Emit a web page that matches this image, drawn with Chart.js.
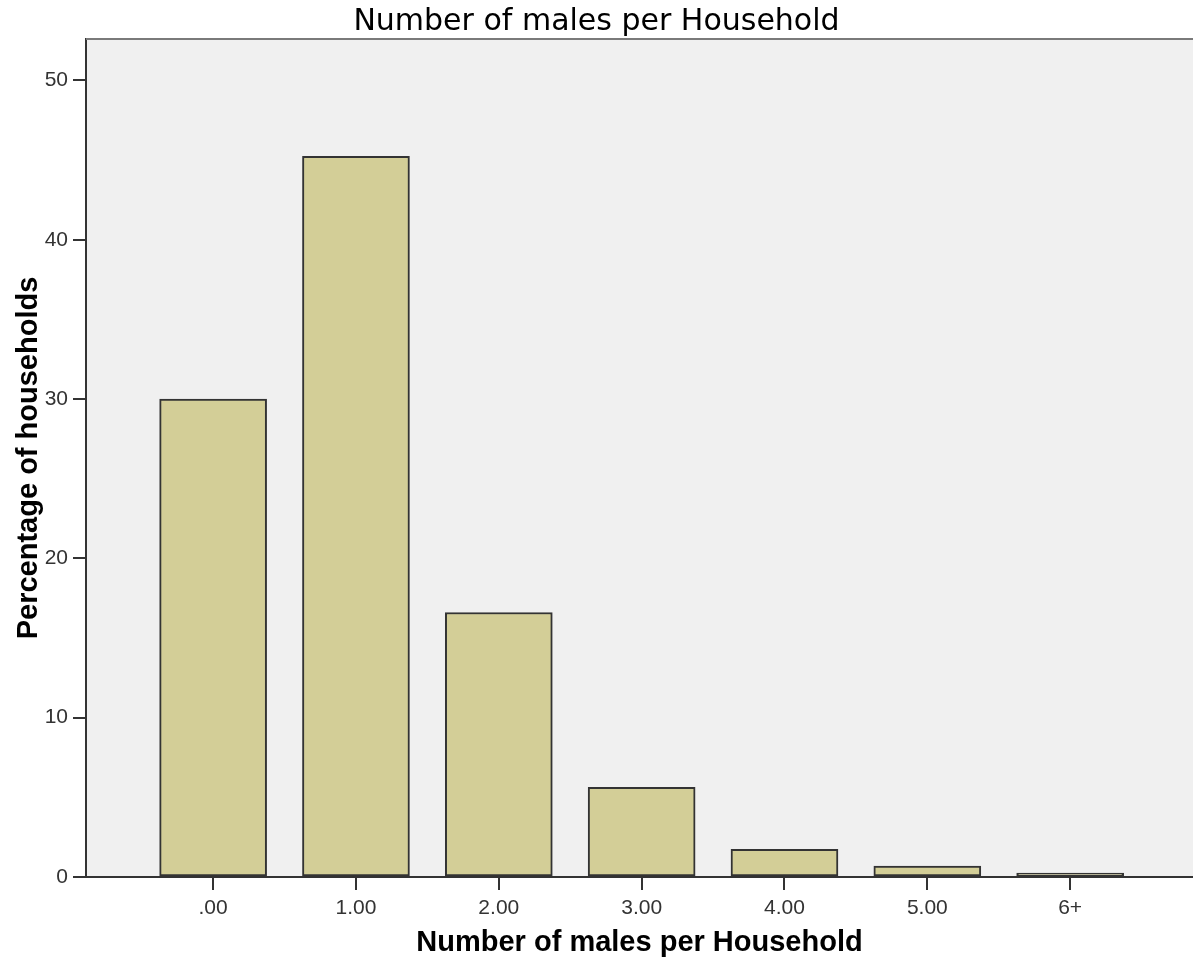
<!DOCTYPE html>
<html>
<head>
<meta charset="utf-8">
<title>Number of males per Household</title>
<script src="https://cdn.jsdelivr.net/npm/chart.js@4/dist/chart.umd.min.js"></script>
<style>
  html, body { margin: 0; padding: 0; background: #fff; }
  #wrap { width: 1193px; height: 964px; }
</style>
</head>
<body>
<div id="wrap"><canvas id="males-chart"></canvas></div>
<script>
// values
const categories = [".00", "1.00", "2.00", "3.00", "4.00", "5.00", "6+"];
const percentages = [30.0, 45.24, 16.6, 5.63, 1.74, 0.69, 0.25];
const yTicks = [0, 10, 20, 30, 40, 50];

const plotBg = {
  id: "plotBg",
  beforeDraw(chart) {
    const { ctx, chartArea: a } = chart;
    ctx.save();
    ctx.fillStyle = "#f0f0f0";
    ctx.fillRect(a.left, a.top, a.right - a.left, a.bottom - a.top);
    ctx.restore();
  },
  afterDraw(chart) {
    const { ctx, chartArea: a } = chart;
    ctx.save();
    ctx.strokeStyle = "#7a7a7a";
    ctx.lineWidth = 2;
    ctx.beginPath();
    ctx.moveTo(a.left, a.top);
    ctx.lineTo(a.right, a.top);
    ctx.stroke();
    ctx.restore();
  }
};

new Chart(document.getElementById("males-chart"), {
  type: "bar",
  data: {
    datasets: [{
      label: "Percentage of households",
      data: categories.map((c, i) => ({ x: i, y: percentages[i] })),
      backgroundColor: "#d3ce97",
      borderColor: "#333333",
      borderWidth: 2,
      borderSkipped: false,
      barThickness: 107
    }]
  },
  options: {
    responsive: true,
    maintainAspectRatio: false,
    animation: false,
    layout: { padding: 0 },
    plugins: {
      legend: { display: false },
      tooltip: { enabled: false },
      title: {
        display: true,
        text: "Number of males per Household",
        color: "#000",
        font: { family: "'DejaVu Sans', sans-serif", size: 30, weight: "normal", lineHeight: 1.1 },
        padding: { top: 6, bottom: 0 }
      }
    },
    scales: {
      x: {
        type: "linear",
        offset: false,
        min: -0.89,
        max: 6.86,
        afterBuildTicks: axis => { axis.ticks = categories.map((c, i) => ({ value: i })); },
        afterFit: axis => { axis.height = 87; },
        border: { color: "#333", width: 2 },
        grid: { offset: false, drawOnChartArea: false, color: "#333", lineWidth: 2, tickLength: 13 },
        ticks: {
          callback: v => categories[v],
          color: "#333",
          padding: 6,
          maxRotation: 0,
          font: { family: "'Liberation Sans', Arial, sans-serif", size: 21 }
        },
        title: {
          display: true,
          text: "Number of males per Household",
          color: "#000",
          font: { family: "'Liberation Sans', Arial, sans-serif", size: 29, weight: "bold" },
          padding: { top: 4, bottom: 4 }
        }
      },
      y: {
        min: 0,
        max: 52.6,
        afterBuildTicks: axis => { axis.ticks = yTicks.map(v => ({ value: v })); },
        afterFit: axis => { axis.width = 86; },
        border: { color: "#333", width: 2 },
        grid: { drawOnChartArea: false, color: "#333", lineWidth: 2, tickLength: 13 },
        ticks: {
          color: "#333",
          padding: 5,
          font: { family: "'Liberation Sans', Arial, sans-serif", size: 21 }
        },
        title: {
          display: true,
          text: "Percentage of households",
          color: "#000",
          font: { family: "'Liberation Sans', Arial, sans-serif", size: 29, weight: "bold" },
          padding: { top: 12, bottom: 0 }
        }
      }
    }
  },
  plugins: [plotBg]
});
</script>
</body>
</html>
